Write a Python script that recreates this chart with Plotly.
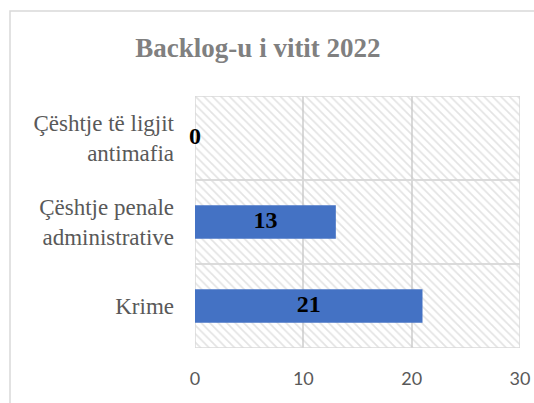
import plotly.graph_objects as go

categories = ["Krime", "Çështje penale<br>administrative", "Çështje të ligjit<br>antimafia"]
values = [21, 13, 0]
x_ticks = [0, 10, 20, 30]
x_max = 30
title_text = "Backlog-u i vitit 2022"

serif = "Liberation Serif"
W, H = 534, 403

fig = go.Figure()

# hatched plot-area background cells (one per category)
fig.add_trace(go.Bar(
    x=[x_max] * len(categories), y=categories, orientation="h", width=1,
    marker=dict(color="rgba(0,0,0,0)", line=dict(color="#d9d9d9", width=1.5),
                pattern=dict(shape="\\", size=6, solidity=0.28,
                             fgcolor="#c8c8c8", bgcolor="rgba(0,0,0,0)")),
    hoverinfo="skip", showlegend=False,
))

# data bars
fig.add_trace(go.Bar(
    x=values, y=categories, orientation="h", width=0.4,
    marker=dict(color="#4472C4", line=dict(width=0)),
    showlegend=False,
))

# data labels centered on bars
fig.add_trace(go.Scatter(
    x=[v / 2 for v in values], y=categories, mode="text",
    text=[str(v) for v in values],
    textfont=dict(family=serif, size=24, color="#000000", weight="bold"),
    textposition="middle center", cliponaxis=False, showlegend=False,
    hoverinfo="skip",
))

fig.update_layout(
    width=W, height=H,
    margin=dict(l=195, r=14, t=96, b=55, autoexpand=False),
    barmode="overlay",
    paper_bgcolor="white", plot_bgcolor="white",
    title=dict(text="<b>" + title_text + "</b>", x=258 / W, xref="container",
               y=1 - 48 / H, yref="container", xanchor="center", yanchor="middle",
               font=dict(family=serif, size=27, color="#808080")),
    xaxis=dict(range=[0, x_max], tickvals=x_ticks, showgrid=True, automargin=False,
               gridcolor="#d9d9d9", gridwidth=1.5, zeroline=False, showline=False,
               ticks="", ticklabelstandoff=18,
               tickfont=dict(family="Lato", size=18, color="#595959")),
    yaxis=dict(range=[-0.5, 2.5], showgrid=False, zeroline=False, showline=False,
               automargin=False, ticks="", ticklabelstandoff=20,
               tickfont=dict(family=serif, size=23, color="#595959")),
    shapes=[dict(type="rect", xref="paper", yref="paper",
                 x0=(10 - 195) / 325, x1=1.2, y0=-0.5, y1=(348 - 11) / 252,
                 line=dict(color="#d9d9d9", width=1.5), fillcolor="rgba(0,0,0,0)",
                 layer="below")],
)

fig.write_html(
    "out.html",
    config={"displayModeBar": False},
    post_script="document.body.style.margin='0';"
                "document.documentElement.style.overflow='hidden';"
                "document.body.style.overflow='hidden';",
)
